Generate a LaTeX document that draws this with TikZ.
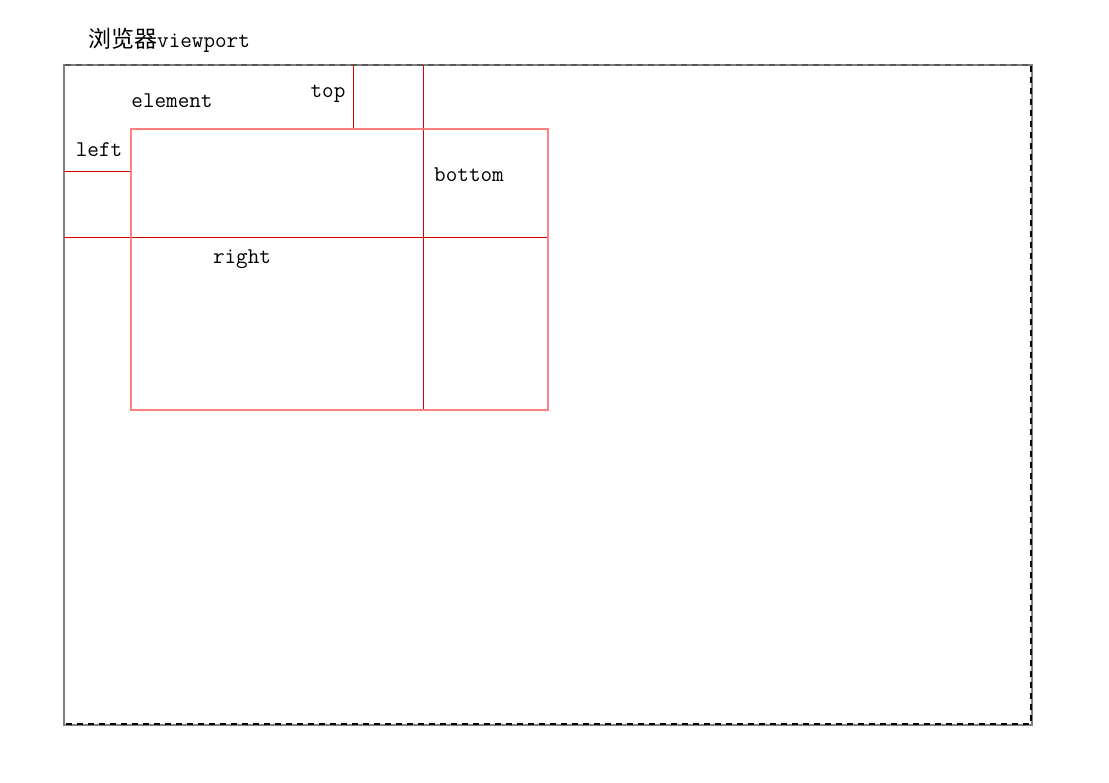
\documentclass[tikz,border=0pt]{standalone}
\usepackage{fontspec}
\newfontfamily\cjk{Noto Sans CJK SC}
\begin{document}
\begin{tikzpicture}[x=1pt,y=-1pt,
  lbl/.style={font=\ttfamily\fontsize{22.5}{25}\selectfont, inner sep=0pt, text=black},
  elem/.style={draw=red!50, line width=1.6pt},
  guide/.style={draw=red!85!black, line width=0.8pt},
  vp/.style={draw=gray, line width=1.5pt}]
\useasboundingbox (0,0) rectangle (1109,783);
% viewport
\coordinate (vtl) at (64,65);
\coordinate (vbr) at (1032,725);
\draw[vp] (vtl) rectangle (vbr);
\draw[black, line width=1.3pt, dash pattern=on 6pt off 5pt] (1031,66) -- (1031,724) -- (65,724);
\draw[gray!70!black, line width=1.3pt, dash pattern=on 6pt off 5pt] (65,65) -- (1031,65);
% element
\coordinate (etl) at (131,129);
\coordinate (ebr) at (548,410);
% guides
\coordinate (t1) at (353,65);
\coordinate (t2) at (353,129);
\coordinate (b1) at (423,65);
\coordinate (b2) at (423,410);
\coordinate (l1) at (64,171);
\coordinate (l2) at (131,171);
\coordinate (r1) at (64,237);
\coordinate (r2) at (548,237);
\draw[guide] (t1) -- (t2);
\draw[guide] (b1) -- (b2);
\draw[guide] (l1) -- (l2);
\draw[guide] (r1) -- (r2);
\draw[elem] (etl) rectangle (ebr);
% labels
\node[lbl, anchor=west] (title) at (88,40) {{\cjk\fontsize{23}{26}\selectfont 浏览器}viewport};
\node[lbl] (element) at (172,101) {element};
\node[lbl] (top) at (328,94) {top};
\node[lbl] (left) at (99,150) {left};
\node[lbl] (bottom) at (469,175) {bottom};
\node[lbl] (right) at (242,259) {right};
\end{tikzpicture}
\end{document}
